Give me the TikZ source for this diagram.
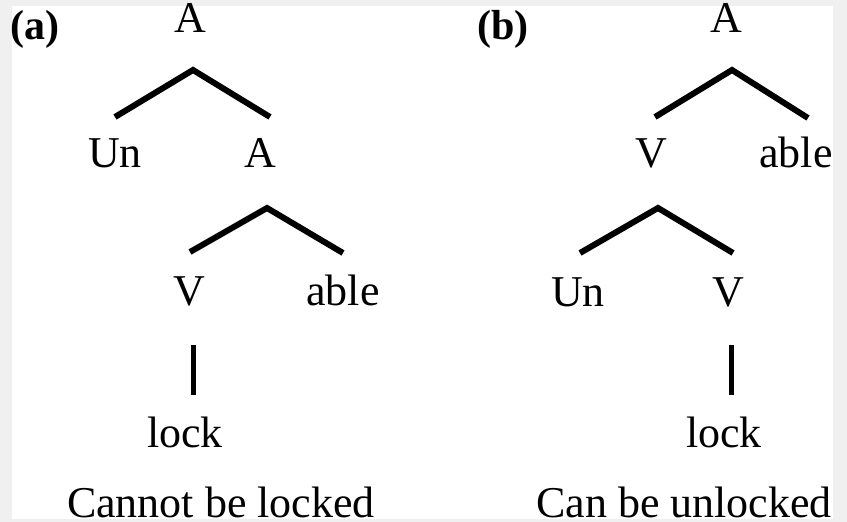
\documentclass[tikz,border=0pt]{standalone}
\usepackage{fontspec}
\setmainfont{Liberation Serif}
\begin{document}
\begin{tikzpicture}[x=1pt,y=-1pt,
  lbl/.style={anchor=base,inner sep=0pt,font=\fontsize{44}{50}\selectfont},
  tag/.style={lbl,font=\fontsize{42}{50}\selectfont\bfseries},
  branch/.style={line width=6pt,line join=miter},
  stem/.style={line width=5pt}]
\useasboundingbox (0,0) rectangle (847,522);
\fill[black!6] (0,0) rectangle (847,522);
\fill[white] (12,6) rectangle (833,519);
% ---- tree (a)
\node[tag] (ta) at (35,39) {(a)};
\node[lbl] (aA1) at (190,32) {A};
\node[lbl] (aUn) at (115,167) {Un};
\node[lbl] (aA2) at (260,167) {A};
\node[lbl] (aV) at (189,305) {V};
\node[lbl] (aable) at (343,305) {able};
\node[lbl] (alock) at (185,447) {lock};
\node[lbl] (acap) at (221,517) {Cannot be locked};
\coordinate (aP1) at (193,70);
\coordinate (aL1) at (115,117);
\coordinate (aR1) at (270,117);
\coordinate (aP2) at (267,208);
\coordinate (aL2) at (190,252);
\coordinate (aR2) at (343,253);
\coordinate (aS1) at (193,345);
\coordinate (aS2) at (193,395);
\draw[branch] (aL1) -- (aP1) -- (aR1);
\draw[branch] (aL2) -- (aP2) -- (aR2);
\draw[stem] (aS1) -- (aS2);
% ---- tree (b)
\node[tag] (tb) at (503,39) {(b)};
\node[lbl] (bA1) at (726,32) {A};
\node[lbl] (bV1) at (651,167) {V};
\node[lbl] (bable) at (796,167) {able};
\node[lbl] (bUn) at (578,306) {Un};
\node[lbl] (bV2) at (728,306) {V};
\node[lbl] (block) at (724,447) {lock};
\node[lbl] (bcap) at (684,517) {Can be unlocked};
\coordinate (bP1) at (732,70);
\coordinate (bL1) at (655,117);
\coordinate (bR1) at (808,118);
\coordinate (bP2) at (658,208);
\coordinate (bL2) at (580,253);
\coordinate (bR2) at (733,253);
\coordinate (bS1) at (731,345);
\coordinate (bS2) at (731,395);
\draw[branch] (bL1) -- (bP1) -- (bR1);
\draw[branch] (bL2) -- (bP2) -- (bR2);
\draw[stem] (bS1) -- (bS2);
\end{tikzpicture}
\end{document}
